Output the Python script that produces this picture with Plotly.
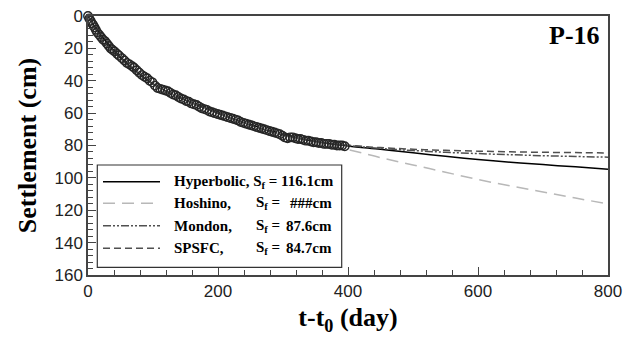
import plotly.graph_objects as go

# ---------------- data ----------------
obs_t = [0, 2, 4, 6, 8, 10, 12, 14, 17, 20, 23, 26, 29, 32, 35, 38, 41, 45, 48, 52,
         56, 60, 64, 68, 71, 75, 79, 83, 87, 91, 95, 99, 103, 107, 111, 115, 119, 123,
         127, 131, 135, 139, 143, 147, 151, 155, 159, 163, 167, 171, 175, 179, 183, 187,
         191, 195, 199, 203, 207, 211, 215, 219, 223, 227, 231, 235, 239, 243, 247, 251,
         255, 259, 263, 267, 271, 275, 279, 283, 287, 291, 295, 299, 303, 307, 311, 315,
         319, 323, 327, 331, 335, 339, 343, 347, 351, 355, 359, 363, 367, 371, 375, 379,
         383, 387, 391, 395]
obs_s = [0, 1.5, 3, 4.5, 5.5, 7, 8.5, 10, 11.5, 13, 14.5, 15.5, 17, 18.5, 20, 21, 22,
         23.5, 24.5, 26, 27.5, 29, 30, 31, 32, 33.5, 35, 36.5, 37.5, 38.5, 40, 41, 43,
         44.5, 45, 45.5, 46, 46.5, 47.5, 48.5, 49, 50, 51, 51.5, 52.5, 53, 54, 54.5, 55,
         56, 57, 57.5, 58, 59, 59.5, 60, 60.5, 61, 61.5, 62, 62.5, 63, 63.5, 64, 64.5,
         65.5, 66, 66.5, 67, 67.5, 68, 68.5, 69, 69.5, 70, 70.5, 71, 71.5, 72, 72.5, 73,
         74, 75, 75.5, 75, 75, 75.5, 76, 76, 76.5, 77, 77, 77.5, 78, 78, 78.5, 78.5, 79,
         79, 79, 79.5, 79.5, 80, 80, 80, 80.5]

fit_t = [0, 20, 50, 100, 150, 200, 250, 300, 350, 400, 450, 500, 550, 600, 650, 700, 750, 800]
hyper_s = [0, 12, 25.5, 42, 52, 60, 67, 73, 77.5, 80.3, 82.3, 84.5, 86.7, 88.6, 90.3, 91.8, 93.2, 94.6]
hoshino_s = [0, 15, 27.5, 42, 52, 60, 67, 73, 78, 82.5, 87.5, 92, 96.5, 101, 105, 108.7, 112.5, 116]
mondon_s = [0, 13, 26, 42, 52, 60, 67.5, 73.5, 77.5, 80, 81.8, 83.1, 84.2, 85, 85.7, 86.3, 86.8, 87.2]
spsfc_s = [0, 13, 26, 42, 52, 60, 67.5, 73.5, 77.5, 79.8, 81.3, 82.3, 83, 83.5, 83.9, 84.2, 84.4, 84.6]

names = ["Hyperbolic,", "Hoshino,", "Mondon,", "SPSFC,"]
sf_values = ["116.1cm", "###cm", "87.6cm", "84.7cm"]

x_ticks = [0, 200, 400, 600, 800]
y_ticks = [0, 20, 40, 60, 80, 100, 120, 140, 160]

# ---------------- styles ----------------
styles = [
    dict(color="#000000", width=1.5, dash="solid"),
    dict(color="#b8b8b8", width=1.5, dash="12px,7px"),
    dict(color="#505050", width=1.5, dash="8px,2px,2px,2px,2px,2px"),
    dict(color="#505050", width=1.5, dash="7px,4px"),
]
series = [hyper_s, hoshino_s, mondon_s, spsfc_s]

fig = go.Figure()
for nm, ys, st in zip(names, series, styles):
    fig.add_trace(go.Scatter(x=fit_t, y=ys, mode="lines", line=st, name=nm,
                             showlegend=False, line_shape="spline"))

fig.add_trace(go.Scatter(x=obs_t, y=obs_s, mode="markers", name="Measured",
                         showlegend=False, cliponaxis=False,
                         marker=dict(symbol="circle-open", size=8.5,
                                     line=dict(color="#262626", width=1.4),
                                     color="#262626")))

# ---------------- layout ----------------
L, R, T, B = 88, 27, 16, 70
W, H = 635, 345
pw, ph = W - L - R, H - T - B

def px(x):
    return (x - L) / pw

def py(y):
    return (H - B - y) / ph

axis_common = dict(showline=True, linecolor="#444444", linewidth=1.5, mirror=True,
                   ticks="inside", tickcolor="#444444", tickwidth=1.2, ticklen=8,
                   showgrid=False, zeroline=False,
                   tickfont=dict(family="Liberation Sans, Arial", size=17, color="#222"))

fig.update_layout(
    width=W, height=H,
    margin=dict(l=L, r=R, t=T, b=B, autoexpand=False),
    paper_bgcolor="white", plot_bgcolor="white",
    showlegend=False,
    xaxis=dict(range=[0, 800], tickvals=x_ticks,
               minor=dict(ticks="inside", dtick=40, ticklen=5, tickcolor="#444444"),
               title=dict(text="<b>t-t<sub>0</sub> (day)</b>", standoff=8,
                          font=dict(family="Liberation Serif, Times New Roman", size=26,
                                    color="#000")),
               **axis_common),
    yaxis=dict(range=[160, 0], tickvals=y_ticks,
               minor=dict(ticks="inside", dtick=4, ticklen=5, tickcolor="#444444"),
               title=dict(text="<b>Settlement (cm)</b>", standoff=10,
                          font=dict(family="Liberation Serif, Times New Roman", size=26,
                                    color="#000")),
               **axis_common),
)

# panel label
fig.add_annotation(text="<b>P-16</b>", xref="paper", yref="paper",
                   x=px(602), y=py(36), xanchor="right", yanchor="middle",
                   showarrow=False,
                   font=dict(family="Liberation Serif, Times New Roman", size=26, color="#000"))

# legend box
fig.add_shape(type="rect", xref="paper", yref="paper",
              x0=px(97.3), x1=px(341.7), y0=py(267.3), y1=py(165),
              line=dict(color="#333333", width=1.2), fillcolor="white", layer="above")

row_y = [181.7, 203.3, 225.7, 248.3]
lfont = dict(family="Liberation Serif, Times New Roman", size=15, color="#000")
for i, (nm, val, st, ry) in enumerate(zip(names, sf_values, styles, row_y)):
    fig.add_shape(type="line", xref="paper", yref="paper",
                  x0=px(103), x1=px(160), y0=py(ry), y1=py(ry),
                  line=st, layer="above")
    if i == 0:
        fig.add_annotation(text=f"<b>{nm} S<sub>f</sub> = {val}</b>", xref="paper", yref="paper",
                           x=px(172), y=py(ry), xanchor="left", yanchor="middle",
                           showarrow=False, font=lfont)
    else:
        fig.add_annotation(text=f"<b>{nm}</b>", xref="paper", yref="paper",
                           x=px(172), y=py(ry), xanchor="left", yanchor="middle",
                           showarrow=False, font=lfont)
        fig.add_annotation(text="<b>S<sub>f</sub> =</b>", xref="paper", yref="paper",
                           x=px(254), y=py(ry), xanchor="left", yanchor="middle",
                           showarrow=False, font=lfont)
        fig.add_annotation(text=f"<b>{val}</b>", xref="paper", yref="paper",
                           x=px(334), y=py(ry), xanchor="right", yanchor="middle",
                           showarrow=False, font=lfont)

# remove the default page margin so the figure sits at the window's corner
fig.write_html("out.html", config={"displayModeBar": False},
               post_script="document.body.style.margin='0px';document.body.style.overflow='hidden';")
